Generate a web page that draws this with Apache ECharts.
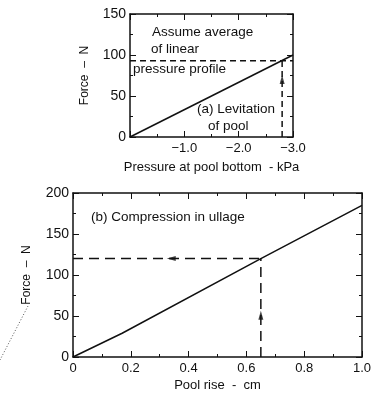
<!DOCTYPE html>
<html>
<head>
<meta charset="utf-8">
<script src="https://cdn.jsdelivr.net/npm/echarts@6/dist/echarts.min.js"></script>
<style>
  html, body { margin: 0; padding: 0; background: #fff; }
  #chart { width: 377px; height: 395px; }
</style>
</head>
<body>
<div id="chart"></div>
<script>
// (a) levitation of pool: force vs pressure at pool bottom
const pressure = [0, -3.0];
const forceA = [0, 100];
const avgForceA = 93;
const levPressure = -2.8;
const arrowA = [[-2.8, 70]];

// (b) compression in ullage: force vs pool rise
const poolRise = [0, 0.17, 0.65, 1.0];
const forceB = [0, 29, 120, 185];
const riseAt = 0.65;
const forceAt = 120;
const arrowBLeft = [[0.34, 120]];
const arrowBUp = [[0.65, 51]];

const ink = '#111';
const font = '"Liberation Sans", Arial, sans-serif';

let chart = echarts.init(document.getElementById('chart'));

function frameAxis(extra) {
  return Object.assign({
    axisLine: { show: true, onZero: false, lineStyle: { color: ink, width: 1.5 } },
    axisTick: { show: true, inside: true, length: 6, lineStyle: { color: ink } },
    minorTick: { show: true, splitNumber: 2, length: 3, lineStyle: { color: ink } },
    axisLabel: { show: false },
    splitLine: { show: false }
  }, extra);
}

let option = {
  animation: false,
  backgroundColor: '#fff',
  textStyle: { fontFamily: font },
  grid: [
    { left: 130, top: 14, width: 163, height: 123 },
    { left: 73, top: 193, width: 289, height: 164 }
  ],
  xAxis: [
    frameAxis({
      gridIndex: 0, type: 'value', min: -3, max: 0, interval: 1, inverse: true,
      axisLabel: { show: true, color: ink, fontSize: 13, margin: 5,
        formatter: v => v === 0 ? '' : '\u2212' + Math.abs(v).toFixed(1) },
      name: 'Pressure at pool bottom  - kPa', nameLocation: 'middle', nameGap: 24,
      nameTextStyle: { color: ink, fontSize: 13 }
    }),
    frameAxis({ gridIndex: 0, type: 'value', min: -3, max: 0, interval: 1, inverse: true, position: 'top' }),
    frameAxis({
      gridIndex: 1, type: 'value', min: 0, max: 1, interval: 0.2,
      axisLabel: { show: true, color: ink, fontSize: 13, margin: 5,
        formatter: v => v === 0 ? '0' : v.toFixed(1) },
      name: 'Pool rise  -  cm', nameLocation: 'middle', nameGap: 22,
      nameTextStyle: { color: ink, fontSize: 13 }
    }),
    frameAxis({ gridIndex: 1, type: 'value', min: 0, max: 1, interval: 0.2, position: 'top' })
  ],
  yAxis: [
    frameAxis({
      gridIndex: 0, type: 'value', min: 0, max: 150, interval: 50,
      axisLabel: { show: true, color: ink, fontSize: 14, margin: 4 },
      name: 'Force  \u2013  N', nameLocation: 'middle', nameGap: 39,
      nameTextStyle: { color: ink, fontSize: 12 }
    }),
    frameAxis({ gridIndex: 0, type: 'value', min: 0, max: 150, interval: 50, position: 'right' }),
    frameAxis({
      gridIndex: 1, type: 'value', min: 0, max: 200, interval: 50,
      axisLabel: { show: true, color: ink, fontSize: 14, margin: 4 },
      name: 'Force  \u2013  N', nameLocation: 'middle', nameGap: 40,
      nameTextStyle: { color: ink, fontSize: 12 }
    }),
    frameAxis({ gridIndex: 1, type: 'value', min: 0, max: 200, interval: 50, position: 'right' })
  ],
  series: [
    {
      type: 'line', xAxisIndex: 0, yAxisIndex: 0, symbol: 'none',
      lineStyle: { color: ink, width: 1.5 },
      data: pressure.map((p, i) => [p, forceA[i]])
    },
    {
      type: 'line', xAxisIndex: 0, yAxisIndex: 0, symbol: 'none',
      lineStyle: { color: ink, width: 1.5, type: [6, 4] },
      data: [[0, avgForceA], [pressure[1], avgForceA]]
    },
    {
      type: 'line', xAxisIndex: 0, yAxisIndex: 0, symbol: 'none',
      lineStyle: { color: ink, width: 1.5, type: [6, 4] },
      data: [[levPressure, 0], [levPressure, avgForceA]]
    },
    {
      type: 'scatter', xAxisIndex: 0, yAxisIndex: 0, symbol: 'triangle',
      symbolSize: [5, 9], itemStyle: { color: ink }, data: arrowA
    },
    {
      type: 'line', xAxisIndex: 2, yAxisIndex: 2, symbol: 'none',
      lineStyle: { color: ink, width: 1.5 },
      data: poolRise.map((r, i) => [r, forceB[i]])
    },
    {
      type: 'line', xAxisIndex: 2, yAxisIndex: 2, symbol: 'none',
      lineStyle: { color: ink, width: 1.5, type: [10, 6] },
      data: [[0, forceAt], [riseAt, forceAt]]
    },
    {
      type: 'line', xAxisIndex: 2, yAxisIndex: 2, symbol: 'none',
      lineStyle: { color: ink, width: 1.5, type: [10, 6] },
      data: [[riseAt, 0], [riseAt, forceAt]]
    },
    {
      type: 'scatter', xAxisIndex: 2, yAxisIndex: 2, symbol: 'triangle', symbolRotate: 90,
      symbolSize: [5, 9], itemStyle: { color: ink }, data: arrowBLeft
    },
    {
      type: 'scatter', xAxisIndex: 2, yAxisIndex: 2, symbol: 'triangle',
      symbolSize: [5, 9], itemStyle: { color: ink }, data: arrowBUp
    }
  ],
  graphic: [
    { type: 'text', left: 152, top: 25, style: { text: 'Assume average', fill: ink, font: '13.5px ' + font } },
    { type: 'text', left: 151, top: 42, style: { text: 'of linear', fill: ink, font: '13.5px ' + font } },
    { type: 'text', left: 133, top: 62, style: { text: 'pressure profile', fill: ink, font: '13.5px ' + font } },
    { type: 'text', left: 197, top: 102, style: { text: '(a) Levitation', fill: ink, font: '13.5px ' + font } },
    { type: 'text', left: 208, top: 119, style: { text: 'of pool', fill: ink, font: '13.5px ' + font } },
    { type: 'text', left: 91, top: 210, style: { text: '(b) Compression in ullage', fill: ink, font: '13.5px ' + font } },
    { type: 'line', shape: { x1: 28, y1: 306, x2: 0, y2: 360 },
      style: { stroke: '#555', lineWidth: 1, lineDash: [1, 2] } }
  ]
};

chart.setOption(option);
</script>
</body>
</html>
